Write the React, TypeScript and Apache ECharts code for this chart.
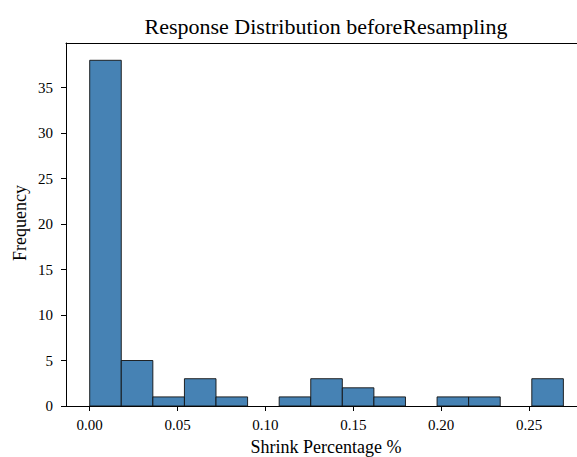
import React, { useEffect, useRef } from "react";
import * as echarts from "echarts";

const binWidth = 0.01797;
const counts = [38, 5, 1, 3, 1, 0, 1, 3, 2, 1, 0, 1, 1, 0, 3];
const binStarts = counts.map((_, i) => i * binWidth);
const xTicks = [0, 0.05, 0.1, 0.15, 0.2, 0.25];
const titleText = "Response Distribution beforeResampling";
const xLabel = "Shrink Percentage %";
const yLabel = "Frequency";

const FONT = "Liberation Serif";

export default function App() {
  const ref = useRef<HTMLDivElement>(null);
  useEffect(() => {
    document.body.style.margin = "0";
    const chart = echarts.init(ref.current!, null, { renderer: "svg" });
    const xMin = -0.01348;
    const xMax = 0.2773;
    const data = counts.map((c, i) => [binStarts[i], binStarts[i] + binWidth, c]);
    chart.setOption({
      animation: false,
      grid: { left: 66, right: 0, top: 43, bottom: 51, containLabel: false },
      graphic: [
        {
          type: "text",
          x: 326,
          y: 26,
          style: { text: titleText, fontFamily: FONT, fontSize: 22, fill: "#000", textAlign: "center", textVerticalAlign: "middle" },
        },
        {
          type: "text",
          x: 326,
          y: 447,
          style: { text: xLabel, fontFamily: FONT, fontSize: 18, fill: "#000", textAlign: "center", textVerticalAlign: "middle" },
        },
        {
          type: "text",
          x: 20,
          y: 223,
          rotation: Math.PI / 2,
          style: { text: yLabel, fontFamily: FONT, fontSize: 18, fill: "#000", textAlign: "center", textVerticalAlign: "middle" },
        },
      ],
      xAxis: [
        {
          type: "value",
          min: xMin,
          max: xMax,
          position: "bottom",
          splitLine: { show: false },
          axisLine: { show: true, onZero: false, lineStyle: { color: "#000", width: 1 } },
          axisTick: { show: true, length: 5, customValues: xTicks, lineStyle: { color: "#000" } },
          axisLabel: {
            customValues: xTicks,
            formatter: (v: number) => v.toFixed(2),
            color: "#000",
            fontFamily: FONT,
            fontSize: 15,
            margin: 11,
          },
        },
        {
          type: "value",
          min: xMin,
          max: xMax,
          position: "top",
          splitLine: { show: false },
          axisLine: { show: true, onZero: false, lineStyle: { color: "#000", width: 1 } },
          axisTick: { show: false },
          axisLabel: { show: false },
        },
      ],
      yAxis: {
        type: "value",
        min: 0,
        max: 39.9,
        interval: 5,
        splitLine: { show: false },
        axisLine: { show: true, onZero: false, lineStyle: { color: "#000", width: 1 } },
        axisTick: { show: true, length: 5, lineStyle: { color: "#000" } },
        axisLabel: { color: "#000", fontFamily: FONT, fontSize: 15, margin: 13, showMaxLabel: false },
      },
      series: [
        {
          type: "custom",
          xAxisIndex: 0,
          yAxisIndex: 0,
          data,
          encode: { x: [0, 1], y: 2 },
          renderItem: (params: any, api: any) => {
            const s = api.coord([api.value(0), 0]);
            const e = api.coord([api.value(1), api.value(2)]);
            const h = s[1] - e[1];
            if (h <= 0) return null;
            return {
              type: "rect",
              shape: { x: s[0], y: e[1], width: e[0] - s[0], height: h },
              style: { fill: "#4682b4", stroke: "#111", lineWidth: 0.9 },
            };
          },
        },
      ],
    });
    return () => chart.dispose();
  }, []);
  return <div ref={ref} style={{ width: 577, height: 457 }} />;
}
